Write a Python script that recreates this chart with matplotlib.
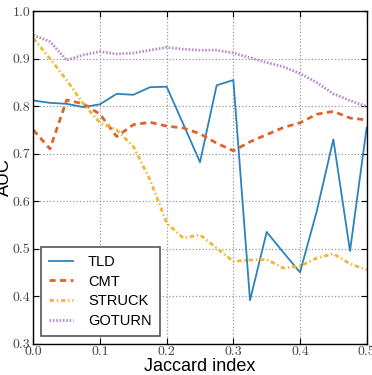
import matplotlib
matplotlib.use("Agg")
import matplotlib.pyplot as plt
import numpy as np

x = [0.0, 0.025, 0.05, 0.075, 0.1, 0.125, 0.15, 0.175, 0.2, 0.225, 0.25,
     0.275, 0.3, 0.325, 0.35, 0.375, 0.4, 0.425, 0.45, 0.475, 0.5]

tld = [0.812, 0.807, 0.805, 0.798, 0.804, 0.826, 0.824, 0.840, 0.841, 0.762, 0.682,
       0.844, 0.855, 0.391, 0.535, 0.492, 0.450, 0.578, 0.730, 0.495, 0.755]
cmt = [0.750, 0.710, 0.813, 0.805, 0.783, 0.736, 0.761, 0.766, 0.758, 0.754, 0.742,
       0.722, 0.706, 0.725, 0.740, 0.755, 0.765, 0.783, 0.789, 0.775, 0.771]
struck = [0.943, 0.900, 0.855, 0.805, 0.765, 0.750, 0.715, 0.645, 0.554, 0.522, 0.529,
          0.501, 0.473, 0.476, 0.477, 0.459, 0.463, 0.480, 0.489, 0.468, 0.455]
goturn = [0.950, 0.936, 0.897, 0.908, 0.915, 0.910, 0.912, 0.918, 0.924, 0.920, 0.918,
          0.918, 0.912, 0.902, 0.892, 0.883, 0.869, 0.850, 0.826, 0.812, 0.799]

labels = ["TLD", "CMT", "STRUCK", "GOTURN"]
colors = ["#2b83ba", "#dd6430", "#f2b535", "#b98ccc"]

fig = plt.figure(figsize=(3.72, 3.75), dpi=100)
ax = fig.add_axes([0.0896, 0.084, 0.8961, 0.886])

ax.plot(x, tld, color=colors[0], lw=1.3, label=labels[0])
ax.plot(x, cmt, color=colors[1], lw=2.0, ls=(0, (2.2, 1.6)), label=labels[1])
ax.plot(x, struck, color=colors[2], lw=2.0, ls=(0, (1.6, 1.0, 0.5, 1.0)), label=labels[2])
ax.plot(x, goturn, color=colors[3], lw=2.0, ls=(0, (0.6, 0.6)), label=labels[3])

ax.set_xlim(0.0, 0.5)
ax.set_ylim(0.3, 1.0)
ax.set_xticks(np.arange(0, 0.51, 0.1))
ax.set_yticks(np.arange(0.3, 1.01, 0.1))
ax.set_xticklabels(["%.1f" % v for v in np.arange(0, 0.51, 0.1)], family="cmr10", fontsize=10, color="#444444")
ax.set_yticklabels(["%.1f" % v for v in np.arange(0.3, 1.01, 0.1)], family="cmr10", fontsize=10, color="#444444")
ax.tick_params(direction="in", top=True, right=True, length=4, width=0.8, pad=2)
ax.grid(True, color="#999999", ls=":", lw=0.9)
for s in ax.spines.values():
    s.set_color("black")
    s.set_linewidth(1.0)

ax.set_xlabel("Jaccard index", family="Liberation Sans", fontsize=13, labelpad=0)
ax.set_ylabel("AUC", family="Liberation Sans", fontsize=13, labelpad=0)

leg = ax.legend(loc="lower left", prop={"family": "Liberation Sans", "size": 10.5},
                fancybox=False, framealpha=1, edgecolor="#555555",
                handlelength=1.7, handletextpad=1.0, borderpad=0.55, labelspacing=0.4,
                borderaxespad=0.5)
leg.get_frame().set_linewidth(1.2)

fig.savefig("out.png", dpi=100)
